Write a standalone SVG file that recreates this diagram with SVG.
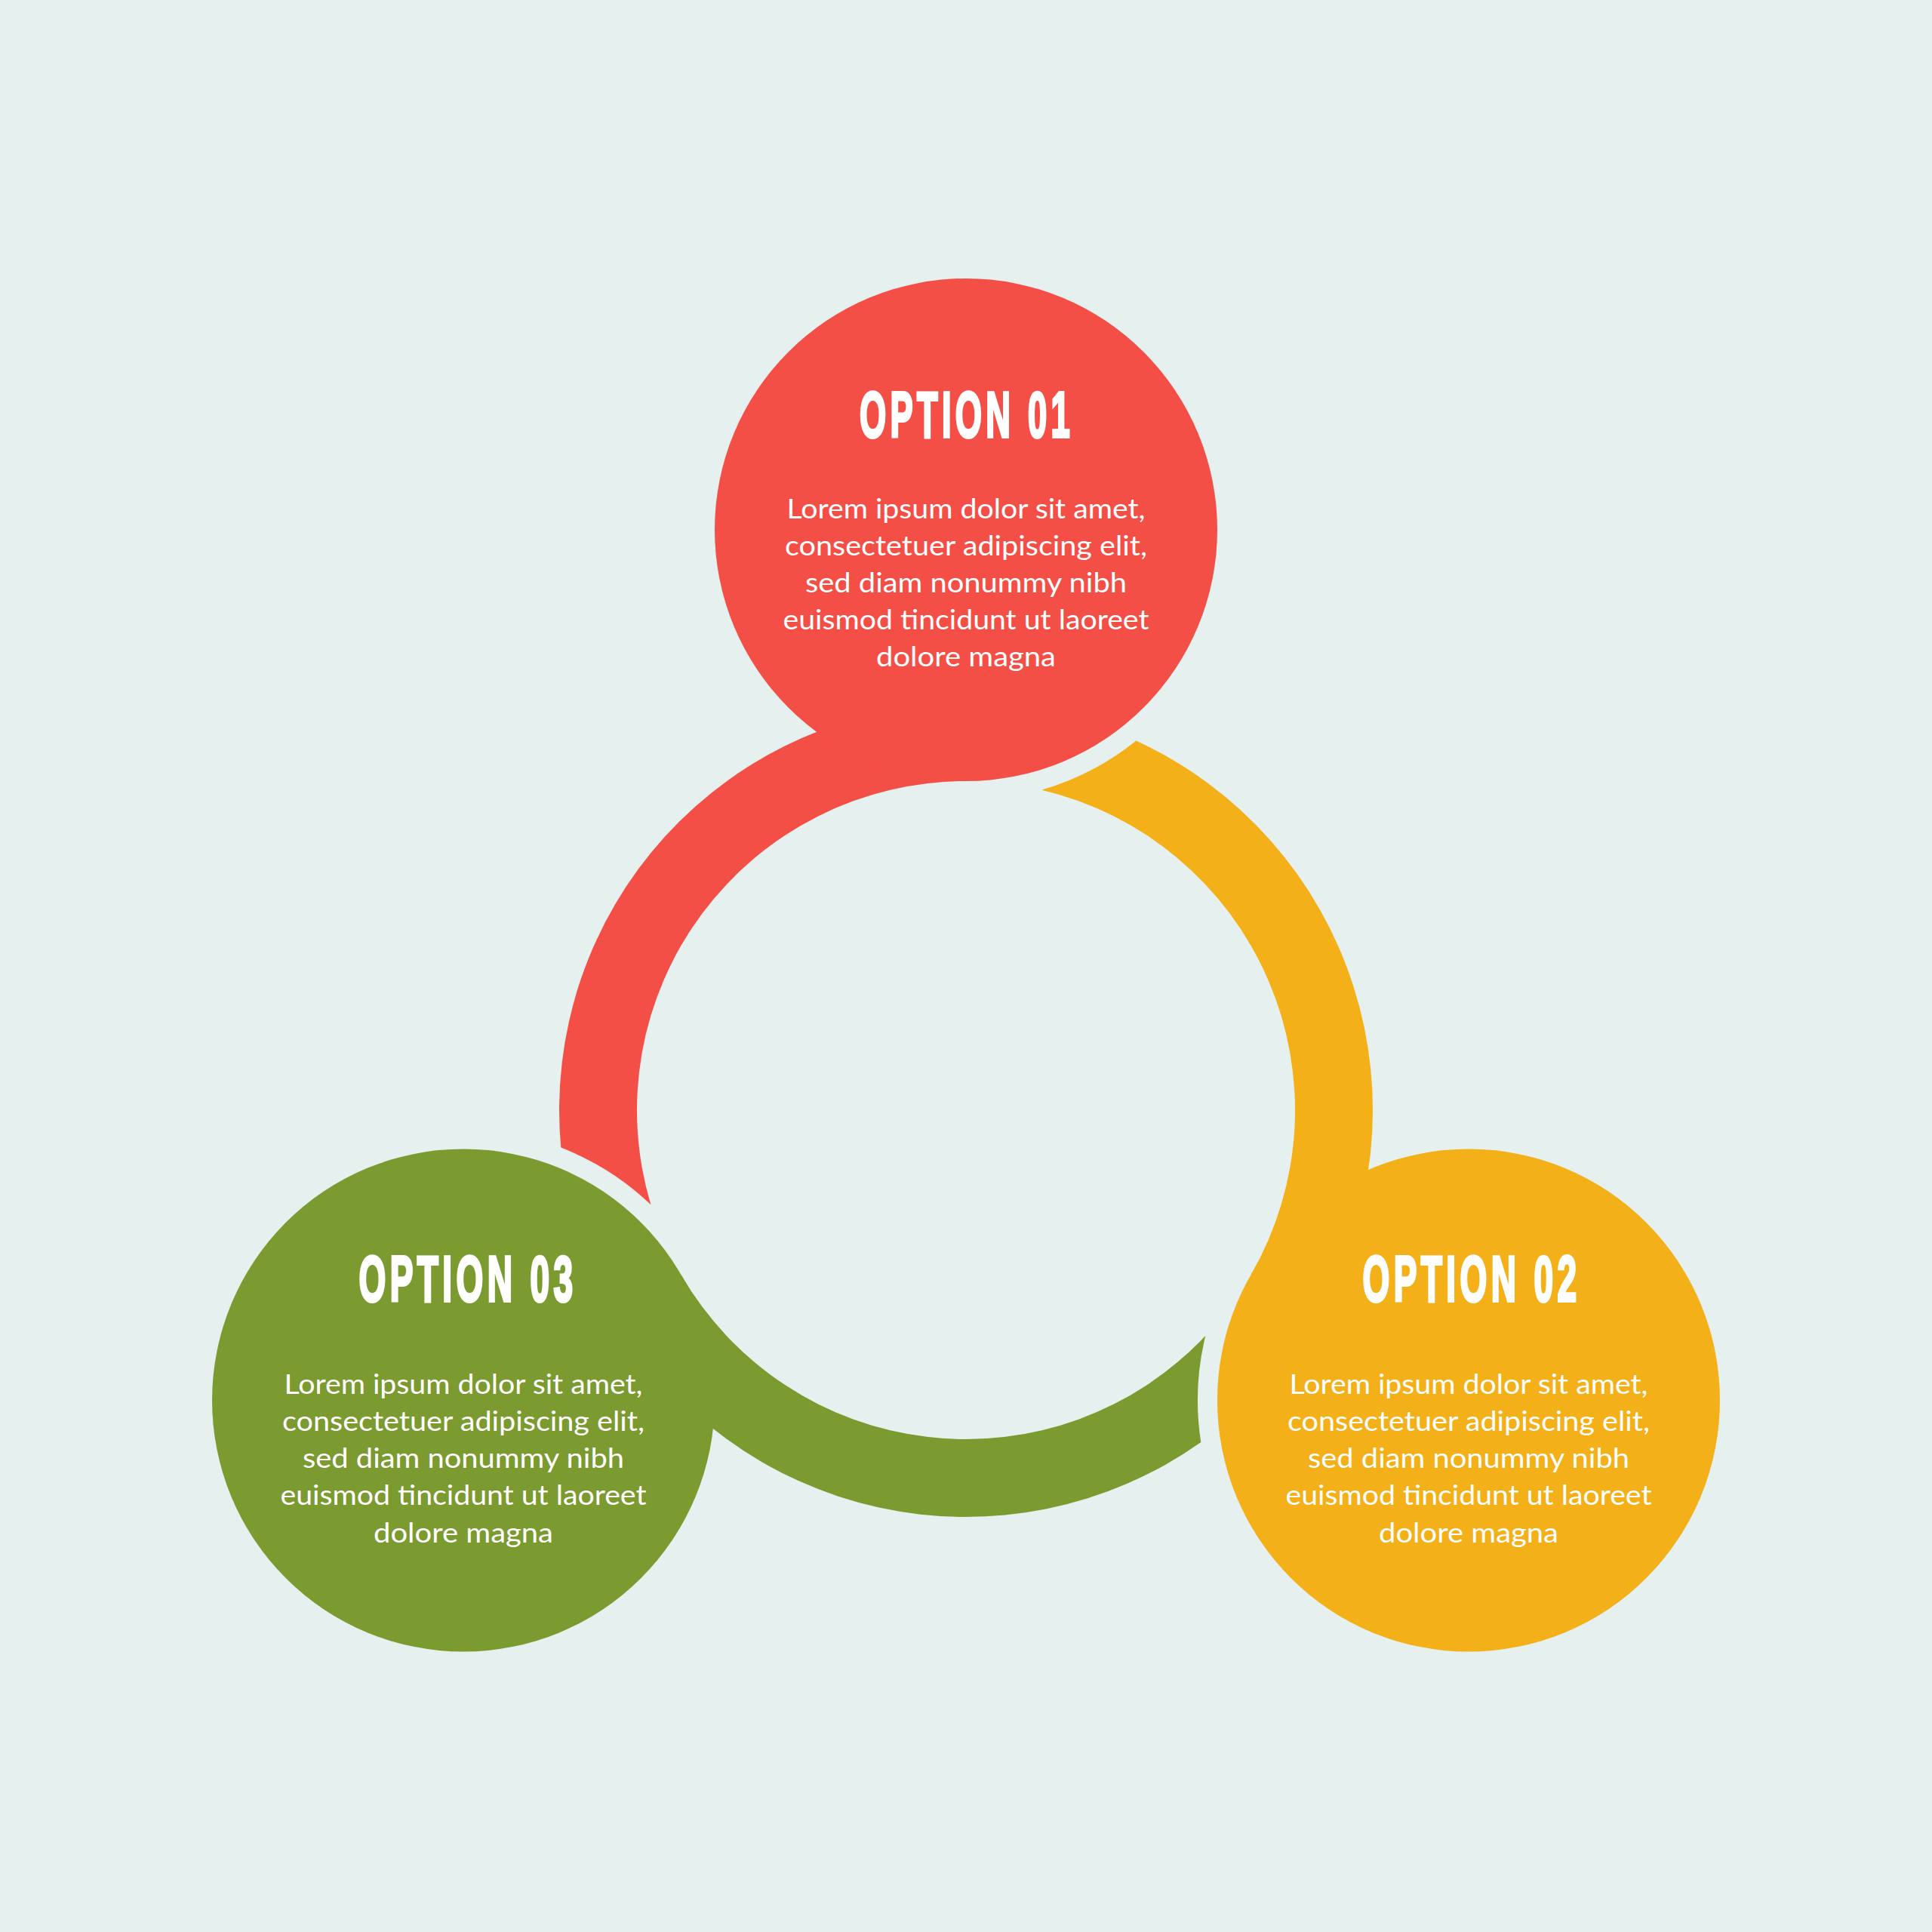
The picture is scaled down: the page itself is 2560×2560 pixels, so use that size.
<svg xmlns="http://www.w3.org/2000/svg" xmlns:xlink="http://www.w3.org/1999/xlink" width="2560" height="2560" viewBox="0 0 2560 2560">
<style>
.title{font-family:"Liberation Sans",Arial,sans-serif;font-weight:700;font-size:85px;letter-spacing:10px;fill:#fff;stroke:#fff;stroke-width:4px;stroke-linejoin:miter;text-anchor:middle}
.body{font-family:Lato,"Open Sans",sans-serif;font-size:36px;fill:#fff;text-anchor:middle}
.red{fill:#F44F46}.yellow{fill:#F3B019}.green{fill:#7B9A2F}
</style>
<defs>
<path id="seg" d="M 743.29 1520.60 A 539 539 0 0 1 1280 932 L 1280 1035 A 436 436 0 0 0 862.39 1596.29 A 359 359 0 0 0 743.29 1520.60 Z"/>
</defs>
<rect width="2560" height="2560" fill="#E6F0EE"/>
<g id="connectors">
<use xlink:href="#seg" href="#seg" class="red"/>
<use xlink:href="#seg" href="#seg" class="yellow" transform="rotate(120 1280 1471)"/>
<use xlink:href="#seg" href="#seg" class="green" transform="rotate(240 1280 1471)"/>
</g>
<g id="option-01">
<circle cx="1280" cy="702" r="333" class="red"/>
<text class="title" x="1281" y="579" textLength="284" lengthAdjust="spacingAndGlyphs">OPTION 01</text>
<text class="body" x="1280" y="687" textLength="475" lengthAdjust="spacingAndGlyphs">Lorem ipsum dolor sit amet,</text>
<text class="body" x="1280" y="736" textLength="480" lengthAdjust="spacingAndGlyphs">consectetuer adipiscing elit,</text>
<text class="body" x="1280" y="785" textLength="426" lengthAdjust="spacingAndGlyphs">sed diam nonummy nibh</text>
<text class="body" x="1280" y="834" textLength="485" lengthAdjust="spacingAndGlyphs">euismod tincidunt ut laoreet</text>
<text class="body" x="1280" y="883" textLength="238" lengthAdjust="spacingAndGlyphs">dolore magna</text>
</g>
<g id="option-02">
<circle cx="1945.97" cy="1855.5" r="333" class="yellow"/>
<text class="title" x="1950" y="1724" textLength="289" lengthAdjust="spacingAndGlyphs">OPTION 02</text>
<text class="body" x="1946" y="1847" textLength="475" lengthAdjust="spacingAndGlyphs">Lorem ipsum dolor sit amet,</text>
<text class="body" x="1946" y="1896" textLength="480" lengthAdjust="spacingAndGlyphs">consectetuer adipiscing elit,</text>
<text class="body" x="1946" y="1945" textLength="426" lengthAdjust="spacingAndGlyphs">sed diam nonummy nibh</text>
<text class="body" x="1946" y="1994" textLength="485" lengthAdjust="spacingAndGlyphs">euismod tincidunt ut laoreet</text>
<text class="body" x="1946" y="2044" textLength="238" lengthAdjust="spacingAndGlyphs">dolore magna</text>
</g>
<g id="option-03">
<circle cx="614.03" cy="1855.5" r="333" class="green"/>
<text class="title" x="620" y="1724" textLength="289" lengthAdjust="spacingAndGlyphs">OPTION 03</text>
<text class="body" x="614" y="1847" textLength="475" lengthAdjust="spacingAndGlyphs">Lorem ipsum dolor sit amet,</text>
<text class="body" x="614" y="1896" textLength="480" lengthAdjust="spacingAndGlyphs">consectetuer adipiscing elit,</text>
<text class="body" x="614" y="1945" textLength="426" lengthAdjust="spacingAndGlyphs">sed diam nonummy nibh</text>
<text class="body" x="614" y="1994" textLength="485" lengthAdjust="spacingAndGlyphs">euismod tincidunt ut laoreet</text>
<text class="body" x="614" y="2044" textLength="238" lengthAdjust="spacingAndGlyphs">dolore magna</text>
</g>
</svg>
